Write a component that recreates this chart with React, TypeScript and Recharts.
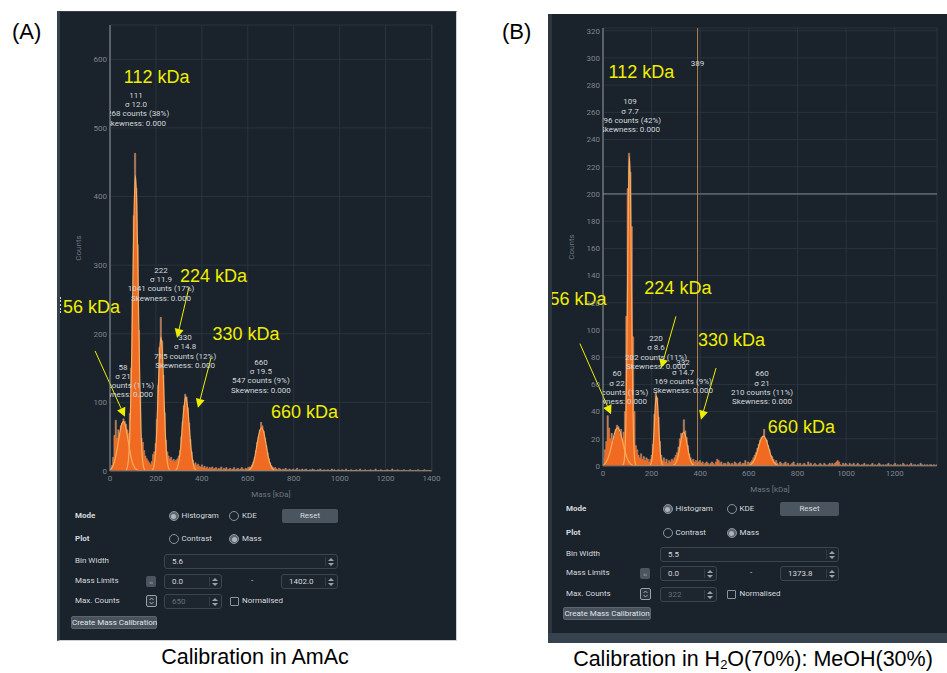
import React from 'react';
import {
  ComposedChart,
  Area,
  Line,
  XAxis,
  YAxis,
  CartesianGrid,
  ReferenceDot,
  ReferenceLine,
  ReferenceArea,
} from 'recharts';

// ---------- Panel A: calibration in AmAc ----------
const BIN_A = 5.6;
const MASS_MAX_A = 1402;
const COUNT_MAX_A = 650;
const X_TICKS_A = [0, 200, 400, 600, 800, 1000, 1200, 1400];
const Y_TICKS_A = [0, 100, 200, 300, 400, 500, 600];

// counts per 5.6 kDa bin, starting at 0 kDa
const COUNTS_A = [
  3, 8, 20, 52, 74, 48, 60, 55, 66, 70,
  76, 72, 68, 60, 55, 84, 150, 250, 372, 463,
  412, 330, 205, 110, 48, 42, 30, 22, 18, 15,
  12, 10, 14, 24, 28, 40, 75, 125, 180, 224,
  190, 140, 85, 45, 28, 22, 18, 20, 15, 17,
  14, 16, 18, 22, 30, 50, 72, 95, 112, 108,
  92, 70, 46, 28, 16, 10, 12, 8, 10, 7,
  6, 9, 5, 7, 4, 6, 3, 5, 4, 6,
  3, 4, 5, 2, 4, 3, 6, 2, 4, 3,
  5, 2, 3, 4, 2, 3, 5, 2, 3, 4,
  2, 3, 5, 3, 2, 4, 3, 5, 6, 6,
  9, 13, 20, 30, 42, 50, 60, 71, 66, 58,
  48, 37, 27, 18, 12, 8, 6, 4, 5, 3,
  2, 4, 3, 1, 3, 2, 4, 2, 1, 3,
  2, 0, 3, 1, 2, 4, 1, 2, 0, 3,
  1, 2, 3, 1, 0, 2, 1, 3, 2, 1,
  0, 2, 1, 3, 1, 0, 2, 1, 1, 2,
  0, 1, 3, 1, 2, 0, 1, 2, 1, 0,
  2, 1, 0, 3, 1, 1, 0, 2, 1, 0,
  1, 2, 0, 1, 3, 0, 1, 1, 2, 0,
  1, 0, 2, 1, 0, 1, 3, 0, 1, 0,
  2, 1, 0, 1, 0, 2, 1, 0, 1, 3,
  0, 1, 0, 2, 1, 0, 1, 0, 2, 0,
  1, 0, 1, 2, 0, 1, 0, 1, 0, 2,
  1, 0, 0, 1, 2, 0, 1, 0, 1, 0,
];

// fitted peaks, [mass, counts]
const FITS_A: [number, number][][] = [
  [[0, 1.6], [10, 5.5], [20, 14], [30, 30], [40, 50], [50, 67], [58, 72], [66, 67], [76, 50], [86, 30], [96, 14], [106, 5.5], [116, 2], [130, 0.3], [1402, 0]],
  [[70, 0.3], [75, 5], [81, 19], [87, 58], [93, 140], [99, 261], [105, 380], [111, 430], [117, 380], [123, 261], [129, 140], [135, 58], [141, 19], [147, 5], [155, 0.5]],
  [[180, 0.5], [186, 2], [192, 8], [198, 25], [204, 62], [210, 118], [216, 172], [222, 195], [228, 172], [234, 118], [240, 62], [246, 25], [252, 8], [258, 2], [265, 0.4]],
  [[280, 0.4], [286, 1.2], [293, 4.8], [300, 14.6], [308, 35], [315, 65.5], [323, 95], [330, 108], [337, 95], [345, 65.5], [352, 35], [360, 14.6], [367, 4.8], [374, 1.2], [382, 0.3]],
  [[590, 0.2], [602, 0.7], [611, 3], [621, 8.5], [631, 20.5], [640, 38], [650, 55.6], [660, 63], [670, 55.6], [680, 38], [689, 20.5], [699, 8.5], [709, 2.8], [718, 0.7], [730, 0.1]],
];

const STATS_A = [
  { mass: 57, count: 152, lines: ['58', 'σ 21', '672 counts (11%)', 'Skewness: 0.000'] },
  { mass: 113, count: 548, lines: ['111', 'σ 12.0', '2268 counts (38%)', 'Skewness: 0.000'] },
  { mass: 222, count: 293, lines: ['222', 'σ 11.9', '1041 counts (17%)', 'Skewness: 0.000'] },
  { mass: 327, count: 195, lines: ['330', 'σ 14.8', '715 counts (12%)', 'Skewness: 0.000'] },
  { mass: 657, count: 159, lines: ['660', 'σ 19.5', '547 counts (9%)', 'Skewness: 0.000'] },
];

const TAGS_A = [
  { mass: 203, count: 574, text: '112 kDa' },
  { mass: -80, count: 240, text: '56 kDa' },
  { mass: 451, count: 284, text: '224 kDa' },
  { mass: 592, count: 200, text: '330 kDa' },
  { mass: 847, count: 86, text: '660 kDa' },
];

// [fromMass, fromCount, toMass, toCount]
const ARROWS_A = [
  [-65, 175, 65, 79],
  [344, 268, 292, 194],
  [440, 165, 383, 92],
];

// ---------- Panel B: calibration in H2O/MeOH ----------
const BIN_B = 5.5;
const MASS_MAX_B = 1373.8;
const COUNT_MAX_B = 322;
const X_TICKS_B = [0, 200, 400, 600, 800, 1000, 1200];
const Y_TICKS_B = [0, 20, 40, 60, 80, 100, 120, 140, 160, 180, 200, 220, 240, 260, 280, 300, 320];

const COUNTS_B = [
  6, 12, 18, 37, 28, 20, 24, 18, 22, 27,
  30, 29, 24, 27, 20, 25, 40, 110, 204, 230,
  216, 176, 95, 40, 15, 12, 8, 6, 9, 5,
  7, 4, 6, 5, 3, 5, 8, 16, 38, 54,
  50, 36, 18, 8, 4, 6, 3, 5, 2, 4,
  3, 5, 4, 6, 8, 10, 14, 20, 24, 22,
  34, 26, 21, 15, 9, 6, 4, 5, 3, 4,
  2, 3, 4, 2, 3, 1, 2, 3, 2, 1,
  2, 3, 2, 1, 3, 5, 4, 2, 3, 1,
  2, 2, 1, 3, 2, 1, 2, 1, 3, 2,
  1, 2, 3, 1, 2, 2, 4, 1, 3, 2,
  3, 4, 6, 8, 10, 13, 16, 19, 21, 22,
  27, 20, 19, 15, 12, 8, 7, 5, 3, 4,
  2, 1, 3, 2, 1, 2, 3, 1, 2, 0,
  1, 2, 3, 1, 0, 2, 1, 2, 0, 1,
  2, 1, 0, 3, 1, 2, 0, 1, 2, 1,
  0, 1, 2, 1, 0, 2, 1, 0, 1, 2,
  1, 2, 1, 2, 3, 4, 3, 1, 0, 2,
  1, 2, 1, 0, 2, 1, 1, 2, 0, 1,
  2, 1, 0, 1, 1, 2, 0, 1, 1, 0,
  1, 2, 0, 1, 0, 1, 2, 1, 0, 1,
  0, 1, 1, 2, 0, 1, 0, 1, 2, 0,
  1, 0, 1, 0, 2, 1, 0, 1, 0, 1,
  2, 0, 1, 1, 0, 1, 0, 2, 1, 0,
  1, 0, 1, 0, 1, 1, 0, 1, 0, 1,
];

const FITS_B: [number, number][][] = [
  [[0, 0.7], [5, 1.2], [16, 3.8], [27, 9.1], [38, 17], [49, 24.7], [60, 28], [71, 24.7], [82, 17], [93, 9.1], [104, 3.8], [115, 1.2], [126, 0.3], [1373.8, 0]],
  [[80, 0.3], [86, 2.5], [90, 10], [94, 31], [97.5, 74], [101.3, 138], [105, 200], [109, 227], [113, 200], [116.7, 138], [120.5, 74], [124.4, 31], [128.3, 10], [132, 2.5], [138, 0.2]],
  [[190, 0.1], [194, 0.6], [198.5, 2.3], [202.8, 7], [207, 16.7], [211.4, 31], [215.7, 45.4], [220, 51.5], [224.3, 45.4], [228.6, 31], [233, 16.7], [237.2, 7], [241.5, 2.3], [246, 0.6], [250, 0.1]],
  [[280, 0.1], [288, 0.3], [295, 1.1], [302.6, 3.4], [310, 8.1], [317.3, 15.2], [324.7, 22], [332, 25], [339.3, 22], [346.7, 15.2], [354, 8.1], [361.4, 3.4], [369, 1.1], [376, 0.3], [384, 0.1]],
  [[597, 0.2], [607.5, 1], [618, 3], [628.5, 7.1], [639, 13.4], [649.5, 19.4], [660, 22], [670.5, 19.4], [681, 13.4], [691.5, 7.1], [702, 3], [712.5, 1], [723, 0.2]],
];

const STATS_B = [
  { mass: 58, count: 68, lines: ['60', 'σ 22', '246 counts (13%)', 'Skewness: 0.000'] },
  { mass: 111, count: 268, lines: ['109', 'σ 7.7', '796 counts (42%)', 'Skewness: 0.000'] },
  { mass: 218, count: 94, lines: ['220', 'σ 8.6', '202 counts (11%)', 'Skewness: 0.000'] },
  { mass: 329, count: 76, lines: ['332', 'σ 14.7', '169 counts (9%)', 'Skewness: 0.000'] },
  { mass: 654, count: 68, lines: ['660', 'σ 21', '210 counts (11%)', 'Skewness: 0.000'] },
];

const TAGS_B = [
  { mass: 158, count: 290, text: '112 kDa' },
  { mass: -103, count: 123, text: '56 kDa' },
  { mass: 308, count: 131, text: '224 kDa' },
  { mass: 529, count: 93, text: '330 kDa' },
  { mass: 816, count: 29, text: '660 kDa' },
];

const ARROWS_B = [
  [-95, 90, 33, 38],
  [300, 110, 239, 72],
  [465, 72, 403, 34],
];

// cross-hair cursor shown in panel B
const CURSOR_B = { mass: 389, count: 200, labelCount: 296 };

// ---------- styles ----------
const BG = '#1a222b';
const GRID = '#2a343e';
const BAR = '#f06a22';
const FIT = '#f7ad5e';
const TAG = '#eeee00';
const STAT = '#d3d8dc';
const TICK = '#7d868e';
const UI_TEXT = '#d6dadf';

const tagLabel = (text: string) => (props: any) => {
  const vb = props.viewBox || {};
  const x = (vb.x ?? 0) + (vb.width ?? 0) / 2;
  const y = (vb.y ?? 0) + (vb.height ?? 0) / 2;
  return (
    <text x={x} y={y} dy="0.35em" textAnchor="middle" fill={TAG} fontSize={18} fontFamily="'Liberation Sans', Arial, sans-serif">
      {text}
    </text>
  );
};

const statLabel = (lines: string[], clipId: string) => (props: any) => {
  const vb = props.viewBox || {};
  const x = (vb.x ?? 0) + (vb.width ?? 0) / 2;
  const y = (vb.y ?? 0) + (vb.height ?? 0) / 2;
  return (
    <text x={x} y={y} textAnchor="middle" fill={STAT} fontSize={8} clipPath={`url(#${clipId})`}>
      {lines.map((l, i) => (
        <tspan key={i} x={x} dy={i === 0 ? '0.35em' : 9.3}>
          {l}
        </tspan>
      ))}
    </text>
  );
};

const arrowShape = (props: any) => {
  const { x1, y1, x2, y2 } = props;
  const a = Math.atan2(y2 - y1, x2 - x1);
  const len = 9;
  const half = 4.5;
  const bx = x2 - len * Math.cos(a);
  const by = y2 - len * Math.sin(a);
  const px = -Math.sin(a) * half;
  const py = Math.cos(a) * half;
  return (
    <g>
      <line x1={x1} y1={y1} x2={bx} y2={by} stroke={TAG} strokeWidth={1} />
      <polygon points={`${x2},${y2} ${bx + px},${by + py} ${bx - px},${by - py}`} fill={TAG} />
    </g>
  );
};

interface HistProps {
  id: string;
  width: number;
  height: number;
  margin: { top: number; right: number; bottom: number; left: number };
  bin: number;
  counts: number[];
  massMax: number;
  countMax: number;
  xTicks: number[];
  yTicks: number[];
  fits: [number, number][][];
  stats: { mass: number; count: number; lines: string[] }[];
  tags: { mass: number; count: number; text: string }[];
  arrows: number[][];
  cursor?: { mass: number; count: number; labelCount: number };
}

function MassHistogram(p: HistProps) {
  // one row per bin, placed at the bin centre; the step area turns at the bin edges
  const rows = p.counts.map((c, i) => ({ m: +(p.bin * (i + 0.5)).toFixed(2), c }));
  const clipId = `${p.id}-plotclip`;
  const axisText = { fontSize: 8, fill: TICK };
  return (
    <ComposedChart width={p.width} height={p.height} data={rows} margin={p.margin}>
      <CartesianGrid stroke={GRID} />
      <XAxis
        dataKey="m"
        type="number"
        domain={[0, p.massMax]}
        ticks={p.xTicks}
        allowDataOverflow
        tickSize={0}
        tickMargin={4}
        tick={axisText}
        axisLine={{ stroke: '#59626b' }}
        height={30}
        label={{ value: 'Mass [kDa]', position: 'insideBottom', offset: 4, fontSize: 8, fill: '#6e7780' }}
      />
      <YAxis
        type="number"
        domain={[0, p.countMax]}
        ticks={p.yTicks}
        allowDataOverflow
        width={40}
        tickSize={0}
        tickMargin={3}
        tick={axisText}
        axisLine={{ stroke: '#8f969d' }}
        label={{ value: 'Counts', angle: -90, position: 'insideLeft', offset: 8, fontSize: 8, fill: '#6e7780', style: { textAnchor: 'middle' } }}
      />
      <ReferenceArea
        x1={0}
        x2={p.massMax}
        y1={0}
        y2={p.countMax}
        ifOverflow="visible"
        shape={(r: any) => (
          <clipPath id={clipId}>
            <rect x={r.x} y={r.y} width={r.width} height={r.height} />
          </clipPath>
        )}
      />
      {p.cursor && <ReferenceLine y={p.cursor.count} stroke="#7f878f" />}
      {p.cursor && <ReferenceLine x={p.cursor.mass} stroke="#c38c4e" strokeOpacity={0.9} />}
      <Area
        dataKey="c"
        type="step"
        fill={BAR}
        fillOpacity={1}
        stroke="#a09a96"
        strokeWidth={0.6}
        strokeOpacity={0.85}
        baseValue={0}
        dot={false}
        activeDot={false}
        isAnimationActive={false}
      />
      {p.fits.map((f, i) => (
        <Line
          key={`fit${i}`}
          data={f.map(([m, v]) => ({ m, v }))}
          dataKey="v"
          type="monotone"
          stroke={FIT}
          strokeWidth={1.2}
          dot={false}
          activeDot={false}
          isAnimationActive={false}
        />
      ))}
      {p.cursor && (
        <ReferenceDot
          x={p.cursor.mass}
          y={p.cursor.labelCount}
          r={0}
          fill="none"
          stroke="none"
          label={(props: any) => {
            const vb = props.viewBox || {};
            return (
              <text x={vb.x} y={vb.y} dy="0.35em" textAnchor="middle" fill={STAT} fontSize={8}>
                {p.cursor!.mass}
              </text>
            );
          }}
        />
      )}
      {p.stats.map((s, i) => (
        <ReferenceDot key={`st${i}`} x={s.mass} y={s.count} r={0} fill="none" stroke="none" ifOverflow="visible" label={statLabel(s.lines, clipId)} />
      ))}
      {p.tags.map((t, i) => (
        <ReferenceDot key={`tg${i}`} x={t.mass} y={t.count} r={0} fill="none" stroke="none" ifOverflow="visible" label={tagLabel(t.text)} />
      ))}
      {p.arrows.map((a, i) => (
        <ReferenceLine
          key={`ar${i}`}
          segment={[{ x: a[0], y: a[1] }, { x: a[2], y: a[3] }]}
          ifOverflow="visible"
          stroke={TAG}
          shape={arrowShape}
        />
      ))}
    </ComposedChart>
  );
}

// ---------- control widgets ----------
const abs = (x: number, y: number, w?: number, h?: number): React.CSSProperties => ({
  position: 'absolute',
  left: x,
  top: y,
  width: w,
  height: h,
  boxSizing: 'border-box',
});

function Label({ x, y, text, bold }: { x: number; y: number; text: string; bold?: boolean }) {
  return (
    <div style={{ ...abs(x, y - 6, 80, 12), lineHeight: '12px', fontSize: 8, fontWeight: bold ? 700 : 400, color: UI_TEXT, whiteSpace: 'nowrap' }}>
      {text}
    </div>
  );
}

function Radio({ cx, cy, on, text }: { cx: number; cy: number; on: boolean; text: string }) {
  return (
    <>
      <div style={{ ...abs(cx - 5, cy - 5, 10, 10), borderRadius: 5, border: '1px solid #8c939a', background: on ? '#5d656d' : 'transparent' }}>
        {on && <div style={{ ...abs(1.5, 1.5, 5, 5), borderRadius: 3, background: '#aeb4ba' }} />}
      </div>
      <div style={{ ...abs(cx + 8, cy - 6, 60, 12), lineHeight: '12px', fontSize: 8, color: UI_TEXT, whiteSpace: 'nowrap' }}>{text}</div>
    </>
  );
}

function Spin() {
  return (
    <svg width={6} height={10} style={{ position: 'absolute', right: 3, top: 2 }}>
      <polygon points="0,4 3,1 6,4" fill="#9aa1a8" />
      <polygon points="0,6 3,9 6,6" fill="#9aa1a8" />
    </svg>
  );
}

function Field({ x0, x1, cy, value, disabled }: { x0: number; x1: number; cy: number; value: string; disabled?: boolean }) {
  return (
    <div style={{ ...abs(x0, cy - 7.5, x1 - x0, 15), border: '1px solid #3b4550', borderRadius: 3, background: '#1d252e' }}>
      <div style={{ position: 'absolute', left: 7, top: 0, lineHeight: '13px', fontSize: 8, color: disabled ? '#67707a' : UI_TEXT }}>{value}</div>
      <div style={{ position: 'absolute', right: 11, top: 2, width: 1, height: 9, background: '#333d47' }} />
      <Spin />
    </div>
  );
}

interface CtrlLayout {
  rows: number[];
  btnTop: number;
  r1: number;
  r2: number;
  reset: [number, number];
  wide: [number, number];
  icon: number;
  small: [number, number];
  dash: number;
  right: [number, number];
  calib: [number, number];
}

function Controls({ L, binWidth, massMin, massMax, maxCounts }: { L: CtrlLayout; binWidth: string; massMin: string; massMax: string; maxCounts: string }) {
  const [rMode, rPlot, rBin, rLim, rMax] = L.rows;
  return (
    <>
      <Label x={18} y={rMode} text="Mode" bold />
      <Radio cx={L.r1} cy={rMode} on text="Histogram" />
      <Radio cx={L.r2} cy={rMode} on={false} text="KDE" />
      <div style={{ ...abs(L.reset[0], rMode - 7, L.reset[1] - L.reset[0], 14), background: '#4a5560', borderRadius: 2, color: UI_TEXT, fontSize: 8, lineHeight: '14px', textAlign: 'center' }}>
        Reset
      </div>

      <Label x={18} y={rPlot} text="Plot" bold />
      <Radio cx={L.r1} cy={rPlot} on={false} text="Contrast" />
      <Radio cx={L.r2} cy={rPlot} on text="Mass" />

      <Label x={18} y={rBin} text="Bin Width" />
      <Field x0={L.wide[0]} x1={L.wide[1]} cy={rBin} value={binWidth} />

      <Label x={18} y={rLim} text="Mass Limits" />
      <div style={{ ...abs(L.icon - 5, rLim - 5.5, 10, 11), background: '#4a5560', borderRadius: 2, color: '#c3c8cd', fontSize: 6, lineHeight: '11px', textAlign: 'center' }}>‹›</div>
      <Field x0={L.small[0]} x1={L.small[1]} cy={rLim} value={massMin} />
      <div style={{ ...abs(L.dash - 3, rLim - 6, 6, 12), color: UI_TEXT, fontSize: 8, lineHeight: '12px', textAlign: 'center' }}>-</div>
      <Field x0={L.right[0]} x1={L.right[1]} cy={rLim} value={massMax} />

      <Label x={18} y={rMax} text="Max. Counts" />
      <div style={{ ...abs(L.icon - 5.5, rMax - 6, 11, 12), border: '1px solid #9aa1a8', borderRadius: 2, background: '#2a333c' }}>
        <svg width={9} height={10} style={{ position: 'absolute', left: 0, top: 0 }}>
          <polyline points="2.5,4 4.5,2 6.5,4" fill="none" stroke="#c3c8cd" strokeWidth={0.8} />
          <polyline points="2.5,6 4.5,8 6.5,6" fill="none" stroke="#c3c8cd" strokeWidth={0.8} />
        </svg>
      </div>
      <Field x0={L.small[0]} x1={L.small[1]} cy={rMax} value={maxCounts} disabled />
      <div style={{ ...abs(L.r2 - 4.5, rMax - 4.5, 9, 9), border: '1px solid #8c939a', borderRadius: 1 }} />
      <div style={{ ...abs(L.r2 + 8, rMax - 6, 60, 12), lineHeight: '12px', fontSize: 8, color: UI_TEXT }}>Normalised</div>

      <div
        style={{
          ...abs(L.calib[0], L.btnTop, L.calib[1] - L.calib[0], 13),
          background: '#47525d',
          border: '1px solid #5a6570',
          borderRadius: 2,
          color: '#e1e4e8',
          fontSize: 8,
          lineHeight: '11px',
          textAlign: 'center',
          whiteSpace: 'nowrap',
        }}
      >
        Create Mass Calibration
      </div>
    </>
  );
}

const LAYOUT_A: CtrlLayout = {
  rows: [505, 528, 550, 570, 590],
  btnTop: 605,
  r1: 116.5,
  r2: 177,
  reset: [225, 281],
  wide: [107, 281],
  icon: 94,
  small: [107, 165],
  dash: 195,
  right: [224, 281],
  calib: [14, 100],
};

const LAYOUT_B: CtrlLayout = {
  rows: [495, 519, 540, 559, 580],
  btnTop: 593,
  r1: 119.5,
  r2: 183.5,
  reset: [232, 291],
  wide: [112, 291],
  icon: 97,
  small: [112, 169],
  dash: 203,
  right: [232, 291],
  calib: [15, 103],
};

export default function App() {
  const font = "Roboto, 'Noto Sans', sans-serif";
  const arial = "'Liberation Sans', Arial, sans-serif";
  return (
    <div style={{ position: 'absolute', left: 0, top: 0, width: 947, height: 673, background: '#ffffff', overflow: 'hidden', fontFamily: font }}>
      <div style={{ ...abs(12, 17, 40, 30), fontFamily: arial, fontSize: 22, lineHeight: '30px', color: '#000' }}>(A)</div>
      <div style={{ ...abs(502, 17, 40, 30), fontFamily: arial, fontSize: 22, lineHeight: '30px', color: '#000' }}>(B)</div>

      {/* panel A */}
      <div
        style={{
          ...abs(57, 11, 400, 630),
          background: BG,
          borderLeft: '3px solid #34404b',
          borderTop: '1px solid #34404b',
          borderRight: '1px solid #cdd1d4',
          borderBottom: '1px solid #cdd1d4',
          overflow: 'hidden',
        }}
      >
        <div style={{ ...abs(-3, -1, 399, 495) }}>
          <MassHistogram
            id="histA"
            width={399}
            height={495}
            margin={{ top: 14, right: 24, bottom: 5, left: 13 }}
            bin={BIN_A}
            counts={COUNTS_A}
            massMax={MASS_MAX_A}
            countMax={COUNT_MAX_A}
            xTicks={X_TICKS_A}
            yTicks={Y_TICKS_A}
            fits={FITS_A}
            stats={STATS_A}
            tags={TAGS_A}
            arrows={ARROWS_A}
          />
        </div>
        <div style={{ ...abs(-1, 285, 2, 16), borderLeft: '2px dotted #d0d4d8' }} />
        <div style={{ ...abs(-3, -1, 399, 630) }}>
          <Controls L={LAYOUT_A} binWidth="5.6" massMin="0.0" massMax="1402.0" maxCounts="650" />
        </div>
      </div>

      {/* panel B */}
      <div style={{ ...abs(548, 14, 399, 629), background: BG, overflow: 'hidden' }}>
        <MassHistogram
          id="histB"
          width={399}
          height={487}
          margin={{ top: 14, right: 10, bottom: 5, left: 15 }}
          bin={BIN_B}
          counts={COUNTS_B}
          massMax={MASS_MAX_B}
          countMax={COUNT_MAX_B}
          xTicks={X_TICKS_B}
          yTicks={Y_TICKS_B}
          fits={FITS_B}
          stats={STATS_B}
          tags={TAGS_B}
          arrows={ARROWS_B}
          cursor={CURSOR_B}
        />
        <div style={{ ...abs(0, 0, 4, 619), background: '#2b3641' }} />
        <div style={{ ...abs(0, 619, 399, 10), background: '#36424d' }} />
        <Controls L={LAYOUT_B} binWidth="5.5" massMin="0.0" massMax="1373.8" maxCounts="322" />
      </div>

      <div style={{ ...abs(40, 643, 430, 28), textAlign: 'center', fontFamily: arial, fontSize: 21.5, lineHeight: '28px', color: '#000', whiteSpace: 'nowrap' }}>
        Calibration in AmAc
      </div>
      <div style={{ ...abs(540, 646, 426, 27), textAlign: 'center', fontFamily: arial, fontSize: 21.5, lineHeight: '27px', color: '#000', whiteSpace: 'nowrap' }}>
        Calibration in H<sub style={{ fontSize: 13, lineHeight: 0, verticalAlign: '-0.25em' }}>2</sub>O(70%): MeOH(30%)
      </div>
    </div>
  );
}
